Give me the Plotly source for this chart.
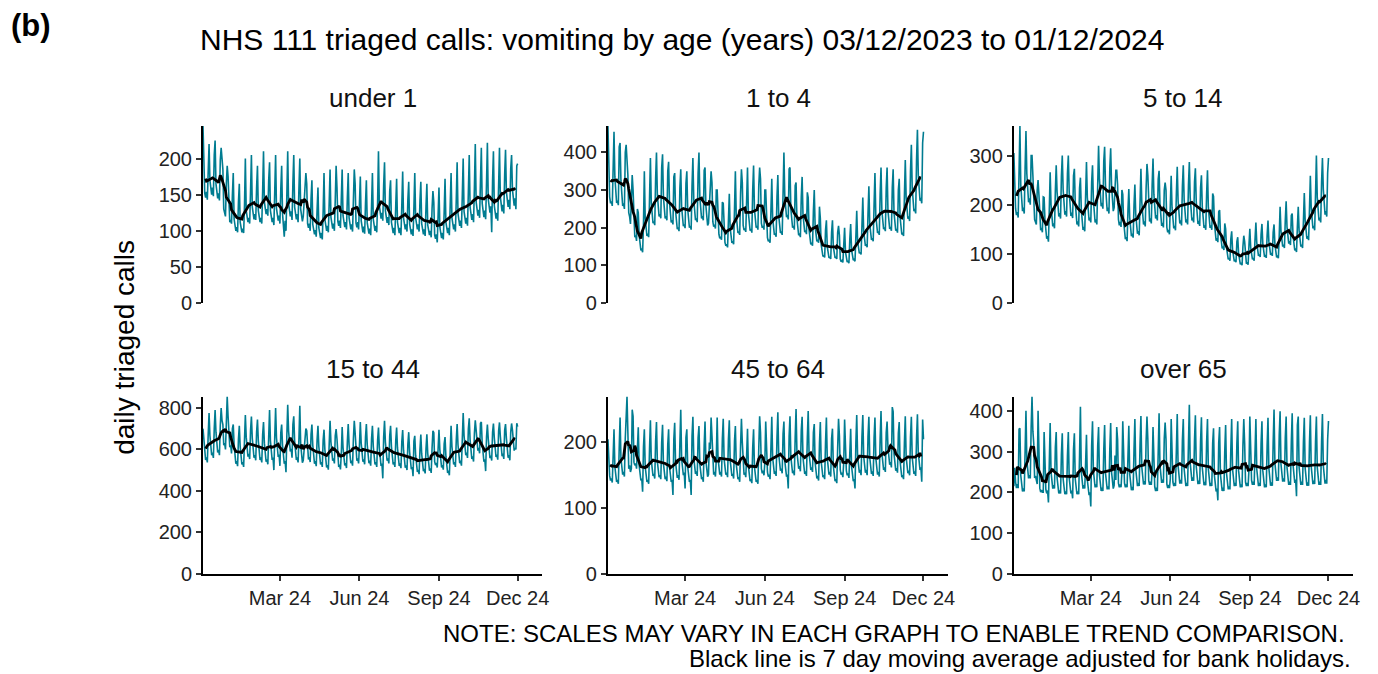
import pandas as pd
import plotly.graph_objects as go

# ---------------- DATA ----------------
start_date = "2023-12-03"
panel_titles = ["under 1", "1 to 4", "5 to 14", "15 to 44", "45 to 64", "over 65"]
tick_dates = ["2024-03-01", "2024-06-01", "2024-09-01", "2024-12-01"]
tick_labels = ["Mar 24", "Jun 24", "Sep 24", "Dec 24"]
y_ticks_under_1 = [0, 50, 100, 150, 200]
y_ticks_1_to_4 = [0, 100, 200, 300, 400]
y_ticks_5_to_14 = [0, 100, 200, 300]
y_ticks_15_to_44 = [0, 200, 400, 600, 800]
y_ticks_45_to_64 = [0, 100, 200]
y_ticks_over_65 = [0, 100, 200, 300, 400]

# daily triaged calls, one row per week (Sun..Sat), from 03/12/2023 to 01/12/2024
under_1 = [
    [245,166,152,146,154,143,200], [220,170,155,150,160,148,205], [225,165,150,145,152,142,198],
    [215,200,185,130,125,120,165], [190,175,120,112,115,110,150], [180,116,106,100,105,98,140],
    [165,112,104,98,103,97,135], [200,128,118,112,118,110,155], [205,133,122,116,123,115,160],
    [190,128,118,112,118,110,155], [210,140,129,123,130,121,170], [195,128,118,112,118,108,155],
    [205,131,120,114,121,110,158], [190,124,110,92,114,100,150], [210,138,126,120,127,115,167],
    [205,133,122,116,123,112,160], [200,130,119,113,120,150,160], [180,165,110,104,110,100,145],
    [170,109,100,95,101,92,130], [160,104,96,90,97,88,127], [180,116,106,100,107,98,140],
    [185,119,109,103,110,100,143], [190,160,113,107,114,104,148], [185,121,110,105,112,102,146],
    [180,118,108,102,109,99,143], [185,165,111,105,112,102,147], [175,114,104,98,106,96,138],
    [170,111,102,96,103,94,135], [180,116,106,100,107,98,140], [210,135,124,117,125,114,163],
    [195,128,118,111,119,108,155], [170,112,103,97,104,94,136], [172,112,103,97,104,94,136],
    [182,118,108,102,109,99,143], [168,110,101,95,102,93,133], [180,118,108,102,109,99,142],
    [168,110,101,95,102,93,134], [165,108,99,94,100,91,131], [155,140,94,89,95,84,124],
    [160,105,96,90,97,88,126], [172,112,103,97,104,94,136], [180,118,108,102,109,99,143],
    [195,124,113,107,114,104,150], [200,127,117,110,118,107,154], [205,133,122,115,123,112,161],
    [220,140,128,121,129,118,169], [215,138,126,119,128,116,167], [222,144,132,125,134,98,170],
    [210,135,124,117,125,114,163], [215,147,135,127,136,124,178], [212,154,141,133,143,130,186],
    [205,157,144,135,145,130,190], [193],
]

age_1_to_4 = [
    [470,330,282,265,270,258,410], [455,335,285,266,272,260,415], [425,325,275,258,265,250,400],
    [420,380,340,240,230,210,300], [340,300,190,175,180,165,250], [240,180,150,140,145,135,210],
    [350,225,190,178,184,175,280], [385,265,225,212,217,207,330], [400,288,245,230,236,225,360],
    [395,282,240,225,231,220,350], [375,268,228,214,220,209,335], [345,245,208,196,201,191,306],
    [355,255,217,204,209,199,318], [350,250,212,200,205,195,312], [385,275,234,220,225,215,344],
    [400,282,240,225,231,220,352], [360,258,219,206,212,260,320], [350,320,216,203,208,198,300],
    [300,215,183,172,176,168,268], [265,190,161,152,156,148,237], [290,200,170,160,164,156,250],
    [350,232,197,186,190,181,290], [355,320,206,194,198,189,300], [360,240,204,192,197,187,300],
    [365,250,212,200,205,195,312], [360,330,212,200,205,195,300], [300,205,174,164,168,160,256],
    [330,226,192,181,185,176,282], [340,232,197,186,190,181,290], [400,285,242,228,234,222,356],
    [360,250,212,200,205,195,312], [320,225,191,180,185,175,281], [335,235,200,188,193,183,294],
    [280,195,166,156,160,152,244], [300,205,174,164,168,160,256], [225,155,132,124,127,121,194],
    [220,150,128,120,123,117,188], [220,150,128,120,123,117,188], [205,180,117,110,113,108,172],
    [200,136,116,109,112,106,170], [210,142,121,114,116,111,178], [245,165,140,132,135,129,206],
    [280,190,162,152,156,148,237], [310,210,179,168,172,164,262], [345,232,197,186,190,181,290],
    [360,245,208,196,201,191,306], [360,246,209,197,202,192,307], [355,240,204,192,197,187,300],
    [330,228,194,182,187,178,285], [380,280,238,224,230,218,350], [420,305,259,244,250,238,381],
    [460,340,289,272,279,265,425], [455],
]

age_5_to_14 = [
    [305,229,192,179,185,174,262], [360,240,200,187,194,182,274], [350,263,220,205,213,200,300],
    [300,260,220,170,165,160,230], [250,220,158,148,153,144,216], [215,168,141,131,136,125,192],
    [266,200,167,156,162,152,228], [280,226,189,176,183,172,258], [300,231,194,180,187,176,264],
    [300,227,190,177,184,173,259], [273,205,172,160,166,156,234], [255,191,160,149,155,146,218],
    [287,215,180,168,174,164,246], [280,210,176,164,170,160,240], [320,252,211,197,204,192,288],
    [318,240,200,187,194,182,274], [315,240,200,187,194,230,270], [270,240,170,158,165,155,230],
    [221,166,139,130,134,126,190], [232,174,146,136,141,133,199], [241,181,151,141,146,138,206],
    [273,205,172,160,166,156,234], [283,260,178,166,172,162,242], [294,221,185,172,179,168,252],
    [269,202,169,157,163,154,230], [245,230,154,144,149,140,210], [259,194,163,152,157,148,222],
    [277,208,174,162,168,158,238], [280,210,176,164,170,160,240], [287,215,180,168,174,164,246],
    [274,206,172,161,167,157,235], [260,195,164,153,158,149,223], [270,195,164,153,158,149,223],
    [217,163,136,127,132,124,186], [189,142,119,111,115,108,162], [151,113,95,89,92,86,130],
    [146,109,92,85,88,83,125], [134,101,84,79,82,77,115], [137,125,86,80,83,78,118],
    [151,113,95,89,92,86,130], [164,123,103,96,99,94,140], [161,121,101,94,98,92,138],
    [168,126,106,98,102,96,144], [160,120,100,93,97,91,137], [196,147,123,115,119,112,168],
    [207,155,130,121,126,118,178], [182,137,114,107,111,104,156], [196,147,123,115,119,112,168],
    [224,168,141,131,136,128,192], [259,194,163,152,157,148,222], [300,215,180,168,174,164,246],
    [295,231,194,180,187,176,264], [295],
]

age_15_to_44 = [
    [700,640,567,549,561,537,671], [775,667,591,572,584,559,699], [790,683,605,585,598,572,715],
    [800,740,720,620,630,600,700], [855,760,630,610,620,580,700], [720,620,549,531,543,519,649],
    [714,614,544,527,538,515,644], [766,659,584,565,578,553,691], [759,653,578,560,572,547,684],
    [744,641,567,549,561,537,671], [732,630,558,540,552,528,660], [790,641,567,549,561,500,660],
    [800,656,581,563,575,520,680], [720,620,549,531,543,490,667], [815,688,609,590,603,560,720],
    [760,641,567,549,561,537,655], [810,625,553,536,547,600,650], [700,690,570,551,563,539,673],
    [720,620,549,531,543,519,649], [714,614,544,527,538,515,644], [695,599,530,513,524,502,627],
    [738,635,563,545,557,532,666], [698,650,532,515,526,503,580], [708,609,539,522,534,510,638],
    [722,622,551,533,545,521,651], [738,680,563,545,557,532,620], [732,630,558,540,552,528,660],
    [722,622,551,533,545,521,651], [714,614,544,527,538,515,644], [705,607,538,520,532,460,660],
    [738,635,563,545,557,532,666], [714,614,544,527,538,515,644], [705,607,538,520,532,509,636],
    [693,596,528,511,523,500,625], [683,588,521,504,515,470,640], [665,572,507,491,501,480,600],
    [671,578,512,495,506,484,605], [673,580,513,497,508,486,607], [690,680,541,524,535,512,590],
    [695,599,530,513,524,502,627], [659,567,502,486,497,475,594], [714,614,544,527,538,515,644],
    [722,622,551,533,545,521,651], [775,667,591,572,584,559,699], [750,646,572,554,566,541,677],
    [740,693,614,594,607,581,726], [732,630,558,540,552,495,660], [720,651,577,558,570,546,682],
    [725,656,581,563,575,550,688], [730,662,586,567,580,554,693], [722,653,578,560,572,547,684],
    [725,693,614,594,607,600,726], [710],
]

age_45_to_64 = [
    [205,165,149,142,145,139,193], [220,163,147,140,143,137,191], [238,176,158,151,155,148,206],
    [240,270,215,160,165,155,160], [250,240,170,165,168,160,212], [223,165,149,142,145,125,193],
    [220,163,147,140,143,137,191], [234,173,156,149,152,145,202], [231,171,154,147,150,144,200],
    [227,168,151,144,148,141,197], [220,163,147,140,143,120,205], [230,170,153,146,150,143,199],
    [250,175,158,150,154,130,208], [220,163,147,140,143,120,210], [239,177,159,152,156,149,207],
    [225,167,150,144,147,140,195], [232,172,155,148,151,200,190], [238,210,158,151,155,148,175],
    [238,176,158,151,155,148,206], [236,175,158,151,154,147,205], [234,173,156,149,152,145,202],
    [225,167,150,144,147,140,195], [236,200,158,151,154,147,180], [221,164,148,141,144,138,192],
    [220,163,147,140,143,137,191], [240,215,160,153,157,150,170], [232,172,155,148,151,144,201],
    [239,177,159,152,156,149,207], [246,182,164,157,160,153,213], [232,172,155,148,151,130,210],
    [240,178,160,153,157,150,208], [251,186,167,160,164,156,218], [239,177,159,152,156,149,207],
    [248,184,166,158,162,155,215], [228,169,152,145,149,142,198], [231,171,154,147,150,144,200],
    [238,176,158,151,155,148,206], [221,164,148,141,144,138,192], [236,210,158,151,154,147,170],
    [235,174,157,150,153,146,204], [221,164,148,141,144,130,200], [242,179,161,154,158,150,209],
    [242,179,161,154,158,150,209], [239,177,159,152,156,149,207], [238,176,158,151,155,148,206],
    [248,184,166,158,162,155,215], [232,193,174,166,170,162,254], [247,183,165,157,161,154,214],
    [231,171,154,147,150,144,200], [240,178,160,153,157,150,208], [239,177,159,152,156,149,207],
    [243,184,166,158,162,140,235], [205],
]

over_65 = [
    [215,260,225,210,220,210,355], [357,241,212,202,209,202,300], [400,280,245,234,242,234,360],
    [435,350,320,235,240,230,220], [400,300,210,200,205,200,200], [348,235,206,197,204,175,315],
    [370,250,219,209,217,209,311], [348,235,206,197,204,197,293], [345,233,205,195,202,195,290],
    [348,235,206,197,204,185,305], [345,233,205,195,202,195,291], [410,250,219,209,217,209,271],
    [341,230,202,193,200,165,314], [374,253,222,212,219,212,314], [360,243,213,203,211,203,303],
    [365,247,217,207,214,207,307], [370,250,219,209,217,290,230], [360,330,222,212,219,212,251],
    [374,253,222,212,219,212,314], [363,245,215,205,213,205,305], [380,257,225,215,223,215,320],
    [387,262,230,219,227,219,326], [386,330,229,218,226,218,255], [360,243,213,203,211,203,303],
    [394,267,234,223,231,223,332], [371,330,220,210,218,210,233], [380,257,225,215,223,215,320],
    [392,265,232,221,230,221,329], [380,257,225,215,223,215,320], [415,272,239,228,236,228,328],
    [389,263,230,220,228,220,326], [384,260,228,217,225,217,324], [380,257,225,215,223,215,320],
    [357,241,212,202,209,180,321], [360,243,213,203,211,203,303], [365,247,217,207,214,207,307],
    [380,257,225,215,223,215,320], [374,253,222,212,219,212,314], [380,320,225,215,223,215,256],
    [386,261,229,218,226,218,324], [380,257,225,215,223,215,320], [374,253,222,212,219,212,314],
    [383,259,227,216,224,216,323], [403,272,239,228,236,228,340], [399,270,237,226,234,226,333],
    [386,261,229,218,226,218,324], [394,267,234,223,231,190,365], [386,261,229,218,226,218,324],
    [383,259,227,216,224,216,323], [389,263,230,220,228,220,326], [386,261,229,218,226,218,324],
    [392,265,232,221,230,221,329], [375],
]

panels = [under_1, age_1_to_4, age_5_to_14, age_15_to_44, age_45_to_64, over_65]
panel_yticks = [y_ticks_under_1, y_ticks_1_to_4, y_ticks_5_to_14,
                y_ticks_15_to_44, y_ticks_45_to_64, y_ticks_over_65]

# ---------------- LAYOUT ----------------
W, H = 1378, 674
col_px = [(196, 537), (603, 945), (1011, 1352)]
row_px = [(120, 300), (395, 575)]
TEAL = "#007C91"
FONT = "Liberation Sans, Arial, sans-serif"

def fx(px):
    return px / W

def fy(px):
    return 1 - px / H

fig = go.Figure()
layout = dict(
    width=W, height=H,
    margin=dict(l=0, r=0, t=0, b=0),
    paper_bgcolor="white", plot_bgcolor="white",
    showlegend=False,
    font=dict(family=FONT, color="#222222"),
)
annotations = []

for i, weeks in enumerate(panels):
    vals = [v for wk in weeks for v in wk]
    dates = pd.date_range(start_date, periods=len(vals), freq="D")
    ma = pd.Series(vals).rolling(7, center=True, min_periods=7).mean()
    r, c = divmod(i, 3)
    suffix = "" if i == 0 else str(i + 1)
    xref, yref = "x" + suffix, "y" + suffix
    fig.add_trace(go.Scatter(x=dates, y=vals, mode="lines",
                             line=dict(color=TEAL, width=1.6),
                             xaxis=xref, yaxis=yref, hoverinfo="skip"))
    fig.add_trace(go.Scatter(x=dates, y=ma, mode="lines",
                             line=dict(color="black", width=2.8),
                             xaxis=xref, yaxis=yref, hoverinfo="skip"))
    x0, x1 = col_px[c]
    y0, y1 = row_px[r]
    bottom = (r == 1)
    layout["xaxis" + suffix] = dict(
        domain=[fx(x0), fx(x1)], anchor=yref,
        range=["2023-12-03", "2024-12-29 12:00"],
        showgrid=False, zeroline=False,
        showline=bottom, linecolor="black", linewidth=2,
        ticks="outside" if bottom else "", ticklen=5, tickwidth=1.5, tickcolor="#333333",
        tickvals=tick_dates, ticktext=tick_labels, showticklabels=bottom,
        tickfont=dict(size=20, family=FONT, color="#222222"),
    )
    layout["yaxis" + suffix] = dict(
        domain=[fy(y1), fy(y0)], anchor=xref,
        range=[0, max(vals)],
        showgrid=False, zeroline=False,
        showline=True, linecolor="black", linewidth=2,
        ticks="outside", ticklen=5, tickwidth=1.5, tickcolor="#333333",
        tickvals=panel_yticks[i],
        tickfont=dict(size=20, family=FONT, color="#222222"),
    )
    annotations.append(dict(
        text=panel_titles[i], x=fx((x0 + x1) / 2), y=fy(y0 - 28),
        xref="paper", yref="paper", xanchor="center", yanchor="middle",
        showarrow=False, font=dict(size=26, family=FONT, color="#111111")))

annotations += [
    dict(text="<b>(b)</b>", x=fx(1), y=fy(18), xref="paper", yref="paper",
         xanchor="left", yanchor="middle", showarrow=False,
         font=dict(size=31, family=FONT, color="black")),
    dict(text="NHS 111 triaged calls: vomiting by age (years) 03/12/2023 to 01/12/2024",
         x=fx(677), y=fy(32), xref="paper", yref="paper",
         xanchor="center", yanchor="middle", showarrow=False,
         font=dict(size=30, family=FONT, color="black")),
    dict(text="daily triaged calls", x=fx(117), y=fy(345), xref="paper", yref="paper",
         xanchor="center", yanchor="middle", textangle=-90, showarrow=False,
         font=dict(size=28, family=FONT, color="black")),
    dict(text="NOTE: SCALES MAY VARY IN EACH GRAPH TO ENABLE TREND COMPARISON.",
         x=fx(1346), y=fy(636), xref="paper", yref="paper",
         xanchor="right", yanchor="middle", showarrow=False,
         font=dict(size=24, family=FONT, color="black")),
    dict(text="Black line is 7 day moving average adjusted for bank holidays.",
         x=fx(1352), y=fy(661), xref="paper", yref="paper",
         xanchor="right", yanchor="middle", showarrow=False,
         font=dict(size=24, family=FONT, color="black")),
]
layout["annotations"] = annotations
fig.update_layout(**layout)
fig.write_html("out.html")
